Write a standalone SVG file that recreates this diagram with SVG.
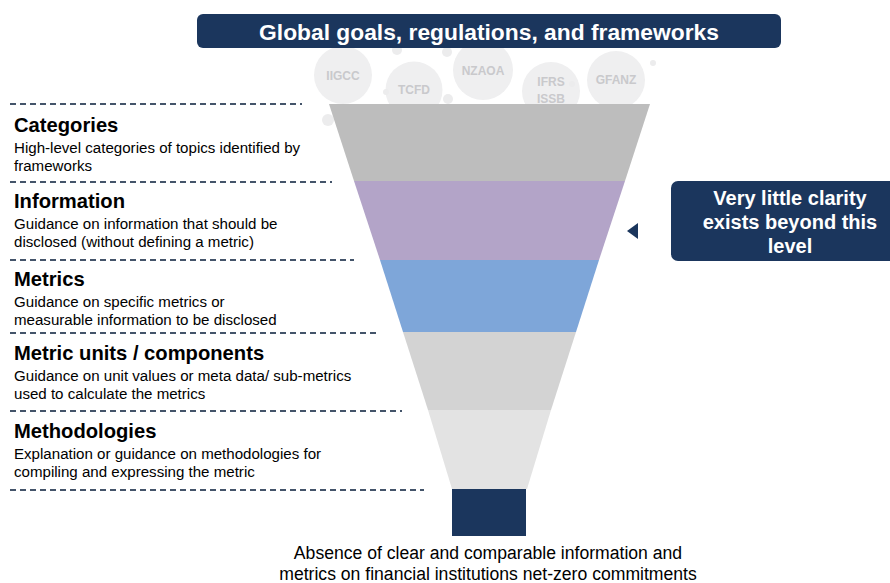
<svg xmlns="http://www.w3.org/2000/svg" width="890" height="583" viewBox="0 0 890 583">
<style>
.navy{fill:#1b365d}
.bub{fill:#efeff0}
.dot{fill:#ececed}
.bt{font-family:"Liberation Sans",Arial,sans-serif;font-weight:bold;font-size:12px;fill:#c9c9cc;text-anchor:middle}
.dash{stroke:#44546a;stroke-width:2;stroke-dasharray:6 4;fill:none}
.ttl{font-family:"Liberation Sans",Arial,sans-serif;font-weight:bold;font-size:20.2px;fill:#000}
.desc{font-family:"Liberation Sans",Arial,sans-serif;font-size:15.1px;fill:#000}
.wt{font-family:"Liberation Sans",Arial,sans-serif;font-weight:bold;fill:#fff;text-anchor:middle}
.bot{font-family:"Liberation Sans",Arial,sans-serif;font-size:17.6px;fill:#000;text-anchor:middle}
</style>
<rect width="890" height="583" fill="#fff"/>

<g id="bubbles">
<circle class="dot" cx="397" cy="50" r="5"/>
<circle class="dot" cx="447" cy="52" r="5"/>
<circle class="bub" cx="343" cy="75" r="29"/>
<circle class="bub" cx="414" cy="90" r="28.5"/>
<circle class="bub" cx="483" cy="70" r="30"/>
<circle class="bub" cx="551" cy="91" r="29"/>
<circle class="bub" cx="616" cy="80" r="29"/>
<circle class="dot" cx="386" cy="92" r="3"/>
<circle class="dot" cx="448" cy="99" r="5"/>
<circle class="dot" cx="328" cy="120" r="6"/>
<circle class="dot" cx="572" cy="84" r="3"/>
<circle class="dot" cx="653" cy="63" r="3"/>
<text class="bt" x="343" y="80">IIGCC</text>
<text class="bt" x="414" y="94">TCFD</text>
<text class="bt" x="483" y="75">NZAOA</text>
<text class="bt" x="551" y="86">IFRS</text>
<text class="bt" x="551" y="103">ISSB</text>
<text class="bt" x="616" y="84">GFANZ</text>
</g>

<g id="header">
<rect class="navy" x="197" y="14" width="584" height="34" rx="6"/>
<text class="wt" x="489" y="40" font-size="22.8">Global goals, regulations, and frameworks</text>
</g>

<g id="funnel">
<polygon points="329,104 650,104 625,181 354,181" fill="#bdbdbd"/>
<polygon points="354,181 625,181 599,260 380,260" fill="#b3a4c8"/>
<polygon points="380,260 599,260 576,332 403,332" fill="#7ea6d9"/>
<polygon points="403,332 576,332 551,410 428,410" fill="#d3d3d3"/>
<polygon points="428,410 551,410 527,489 452,489" fill="#e3e3e3"/>
<rect class="navy" x="452" y="489" width="74" height="47"/>
</g>

<g id="connectors">
<line class="dash" x1="10" y1="104" x2="302" y2="104"/>
<line class="dash" x1="10" y1="182" x2="332" y2="182"/>
<line class="dash" x1="10" y1="260" x2="354" y2="260"/>
<line class="dash" x1="10" y1="333" x2="378" y2="333"/>
<line class="dash" x1="10" y1="411" x2="402" y2="411"/>
<line class="dash" x1="10" y1="490" x2="424" y2="490"/>
</g>

<g id="categories">
<text class="ttl" x="14" y="132">Categories</text>
<text class="desc" x="14" y="153">High-level categories of topics identified by</text>
<text class="desc" x="14" y="171">frameworks</text>
</g>
<g id="information">
<text class="ttl" x="14" y="208">Information</text>
<text class="desc" x="14" y="229">Guidance on information that should be</text>
<text class="desc" x="14" y="247">disclosed (without defining a metric)</text>
</g>
<g id="metrics">
<text class="ttl" x="14" y="286">Metrics</text>
<text class="desc" x="14" y="307">Guidance on specific metrics or</text>
<text class="desc" x="14" y="325">measurable information to be disclosed</text>
</g>
<g id="metric-units">
<text class="ttl" x="14" y="360">Metric units / components</text>
<text class="desc" x="14" y="381">Guidance on unit values or meta data/ sub-metrics</text>
<text class="desc" x="14" y="399">used to calculate the metrics</text>
</g>
<g id="methodologies">
<text class="ttl" x="14" y="438">Methodologies</text>
<text class="desc" x="14" y="459">Explanation or guidance on methodologies for</text>
<text class="desc" x="14" y="477">compiling and expressing the metric</text>
</g>

<g id="clarity-note">
<polygon class="navy" points="627,231 638,223 638,239"/>
<rect class="navy" x="671" y="181" width="230" height="80" rx="7"/>
<text class="wt" x="790" y="205" font-size="20">Very little clarity</text>
<text class="wt" x="790" y="229" font-size="20">exists beyond this</text>
<text class="wt" x="790" y="253" font-size="20">level</text>
</g>

<g id="outcome">
<text class="bot" x="488" y="559">Absence of clear and comparable information and</text>
<text class="bot" x="488" y="580">metrics on financial institutions net-zero commitments</text>
</g>
</svg>
